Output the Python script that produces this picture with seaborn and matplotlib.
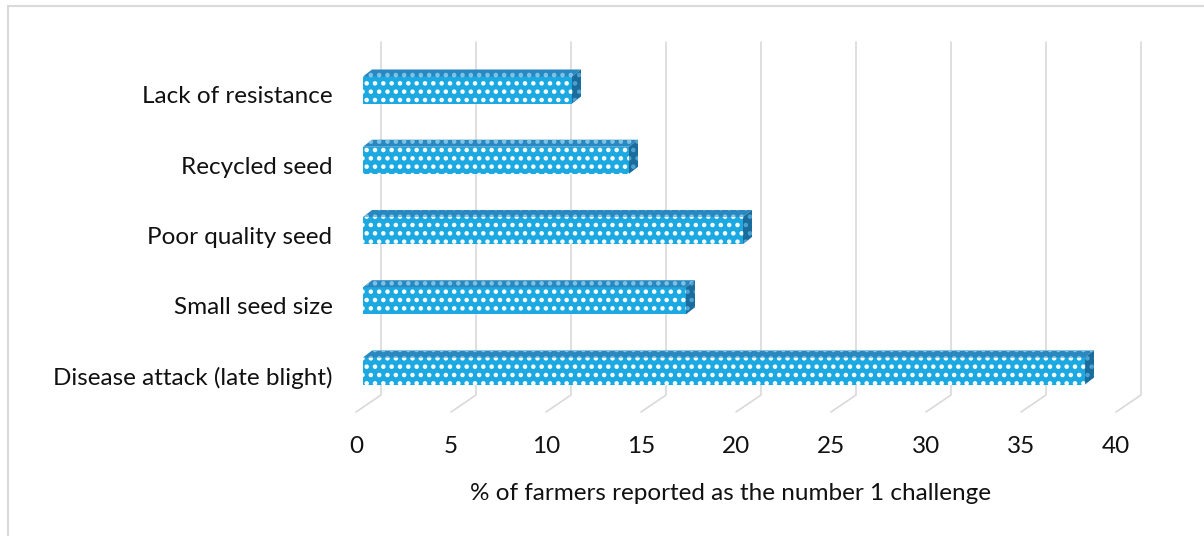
import pandas as pd
import matplotlib
matplotlib.use('Agg')
import matplotlib.pyplot as plt
import seaborn as sns
from matplotlib.patches import Polygon, Rectangle
from matplotlib.transforms import ScaledTranslation

# data
categories = ['Lack of resistance', 'Recycled seed', 'Poor quality seed',
              'Small seed size', 'Disease attack (late blight)']
values = [11, 14, 20, 17, 38]
ticks = [0, 5, 10, 15, 20, 25, 30, 35, 40]
xlabel = '% of farmers reported as the number 1 challenge'

front_col = '#1CA8E0'
top_col = '#2A88C0'
side_col = '#1A6C9C'
grid_col = '#D9D9D9'
text_col = '#111111'

sns.set_theme(style='white')
plt.rcParams['font.family'] = ['Lato', 'DejaVu Sans']
plt.rcParams['hatch.linewidth'] = 2.0

W, H = 1204, 536
fig = plt.figure(figsize=(W / 100, H / 100), dpi=100)

# axes box = front plane of the bars, in pixels
L, R, T, B = 363, 1123, 42, 412
row0, row_step = 90, 70.25
ax = fig.add_axes([L / W, 1 - B / H, (R - L) / W, (B - T) / H])

df = pd.DataFrame({'cat': categories, 'val': values})
sns.barplot(data=df, x='val', y='cat', order=categories, orient='h', width=0.385,
            color=front_col, saturation=1, edgecolor='white', linewidth=0,
            hatch='..', ax=ax, zorder=3)

ax.set_xlim(0, 40)
ax.set_ylim((B - row0) / row_step, (T - row0) / row_step)

sx = (R - L) / 40.0        # px per x unit
sy = row_step              # px per category

# 3d faces of the bars
dxd = 9 / sx
dyd = -7 / sy
for p in list(ax.patches):
    x0, w, y0, h = p.get_x(), p.get_width(), p.get_y(), p.get_height()
    top = Polygon([(x0, y0), (x0 + w, y0), (x0 + w + dxd, y0 + dyd), (x0 + dxd, y0 + dyd)],
                  closed=True, facecolor=top_col, edgecolor='#7FC4E8', linewidth=0,
                  hatch='..', zorder=3)
    side = Polygon([(x0 + w, y0), (x0 + w, y0 + h), (x0 + w + dxd, y0 + h + dyd),
                    (x0 + w + dxd, y0 + dyd)],
                   closed=True, facecolor=side_col, edgecolor='#4FA3D3', linewidth=0,
                   hatch='..', zorder=3)
    ax.add_patch(top)
    ax.add_patch(side)

# back wall grid lines + floor
y_top = (T - row0) / row_step
y_floor_back = (395 - row0) / row_step
y_floor_front = (B - row0) / row_step
for t in ticks:
    xb = t + 18 / sx
    xf = t - 7 / sx
    ax.plot([xb, xb, xf], [y_top, y_floor_back, y_floor_front], color=grid_col,
            lw=1.2, clip_on=False, zorder=0)

for s in ax.spines.values():
    s.set_visible(False)
ax.grid(False)

fs = 17.5
ax.set_xticks(ticks)
ax.set_xticklabels([str(t) for t in ticks])
ax.tick_params(axis='x', length=0, pad=17, labelsize=fs, labelcolor=text_col)
ax.tick_params(axis='y', length=0, pad=22, labelsize=fs, labelcolor=text_col)
for lab in ax.get_xticklabels():
    lab.set_transform(lab.get_transform() + ScaledTranslation(-7 / 100, 0, fig.dpi_scale_trans))
for lab in ax.get_yticklabels():
    lab.set_transform(lab.get_transform() + ScaledTranslation(0, -5 / 100, fig.dpi_scale_trans))

ax.set_ylabel('')
ax.set_xlabel(xlabel, fontsize=fs, color=text_col)
ax.xaxis.set_label_coords((731 - L) / (R - L), (B - 493) / (B - T))
ax.xaxis.label.set_va('center')

# chart border
fig.patches.append(Rectangle((8 / W, -0.1), 1.2, 1.1 - 6 / H, transform=fig.transFigure,
                             fill=False, edgecolor=grid_col, lw=1.5))

fig.savefig('out.png', dpi=100)
